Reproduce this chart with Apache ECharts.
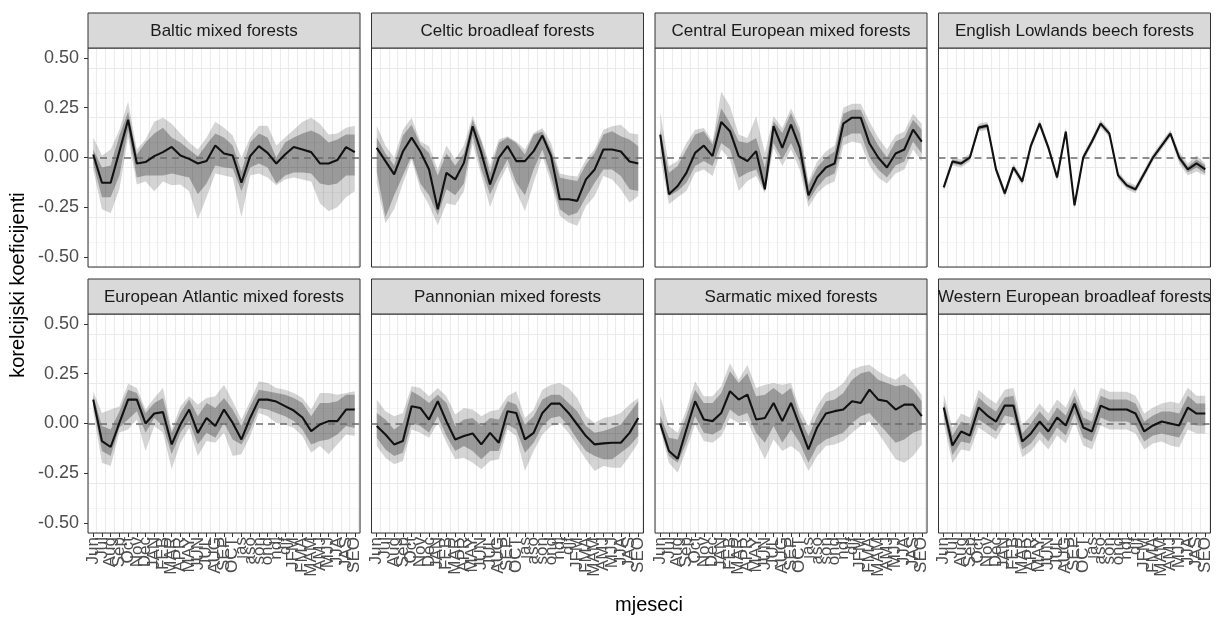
<!DOCTYPE html>
<html><head><meta charset="utf-8">
<script src="https://cdn.jsdelivr.net/npm/echarts@6/dist/echarts.min.js"></script>
<style>html,body{margin:0;padding:0;background:#fff}#c{width:1223px;height:617px}</style>
</head><body><div id="c"></div>
<script>
const months = ['Jun','Jul','Aug','Sep','Oct','Nov','Dec','JAN','FEB','MAR','APR','MAY','JUN','JUL','AUG','SEP','OCT','jas','aso','son','ond','ndj','djf','JFM','FMA','MAM','AMJ','MJJ','JJA','JAS','SEO'];
const panelNames = ['Baltic mixed forests','Celtic broadleaf forests','Central European mixed forests','English Lowlands beech forests','European Atlantic mixed forests','Pannonian mixed forests','Sarmatic mixed forests','Western European broadleaf forests'];
const yTickValues = [-0.5,-0.25,0,0.25,0.5];

// Baltic
const balticLine = [0.015,-0.127,-0.127,0.03,0.19,-0.03,-0.023,0.007,0.027,0.053,0.01,-0.007,-0.03,-0.018,0.06,0.02,0.01,-0.127,0.007,0.057,0.023,-0.03,0.015,0.053,0.04,0.027,-0.03,-0.03,-0.013,0.052,0.027];
const balticInHi = [0.04,-0.05,-0.04,0.11,0.23,0.015,0.075,0.12,0.15,0.1,0.075,0.04,0.005,0.065,0.12,0.1,0.06,-0.07,0.075,0.12,0.1,0.0,0.075,0.1,0.12,0.135,0.115,0.075,0.09,0.115,0.115];
const balticInLo = [-0.03,-0.2,-0.2,-0.09,0.14,-0.1,-0.09,-0.09,-0.09,-0.08,-0.09,-0.1,-0.185,-0.13,-0.04,-0.05,-0.055,-0.17,-0.05,-0.03,-0.05,-0.13,-0.09,-0.075,-0.075,-0.08,-0.13,-0.14,-0.13,-0.09,-0.09];
const balticOutHi = [0.1,0.01,0.04,0.14,0.28,0.04,0.09,0.18,0.2,0.17,0.12,0.075,0.04,0.1,0.18,0.15,0.11,0.0,0.1,0.16,0.16,0.06,0.1,0.14,0.18,0.2,0.17,0.115,0.12,0.15,0.16];
const balticOutLo = [-0.06,-0.26,-0.28,-0.16,0.1,-0.135,-0.12,-0.17,-0.12,-0.14,-0.135,-0.17,-0.31,-0.2,-0.08,-0.09,-0.1,-0.3,-0.09,-0.08,-0.1,-0.14,-0.11,-0.1,-0.11,-0.12,-0.23,-0.27,-0.25,-0.2,-0.17];

// Celtic
const celticLine = [0.048,-0.018,-0.085,0.03,0.1,0.03,-0.06,-0.26,-0.077,-0.11,-0.027,0.157,0.023,-0.135,-0.002,0.057,-0.018,-0.018,0.032,0.11,0.007,-0.21,-0.21,-0.218,-0.11,-0.06,0.04,0.04,0.03,-0.02,-0.03];
const celticInHi = [0.1,0.02,-0.04,0.11,0.165,0.065,0.023,-0.09,0.02,-0.04,0.02,0.19,0.08,-0.077,0.073,0.1,0.073,0.015,0.115,0.13,0.04,-0.1,-0.11,-0.118,-0.035,0.023,0.115,0.132,0.107,0.09,0.057];
const celticInLo = [-0.07,-0.3,-0.19,-0.09,0.007,-0.13,-0.19,-0.29,-0.16,-0.19,-0.13,0.11,-0.06,-0.185,-0.093,-0.01,-0.127,-0.19,-0.06,0.04,-0.093,-0.26,-0.293,-0.277,-0.2,-0.127,-0.06,-0.06,-0.093,-0.16,-0.168];
const celticOutHi = [0.16,0.06,0.0,0.14,0.2,0.08,0.057,-0.06,0.06,-0.01,0.06,0.21,0.09,-0.04,0.09,0.107,0.08,0.04,0.123,0.148,0.073,-0.08,-0.09,-0.095,-0.01,0.04,0.14,0.157,0.165,0.123,0.115];
const celticOutLo = [-0.13,-0.33,-0.26,-0.13,-0.01,-0.16,-0.24,-0.34,-0.23,-0.24,-0.17,0.07,-0.09,-0.25,-0.127,-0.043,-0.17,-0.27,-0.127,0.007,-0.127,-0.293,-0.327,-0.343,-0.243,-0.193,-0.093,-0.11,-0.16,-0.227,-0.193];

// Central European
const centralLine = [0.115,-0.185,-0.143,-0.077,0.023,0.06,0.007,0.178,0.132,0.007,-0.018,0.032,-0.16,0.157,0.048,0.165,0.05,-0.19,-0.1,-0.05,-0.03,0.17,0.2,0.2,0.07,0.0,-0.05,0.02,0.04,0.14,0.08];
const centralInHi = [0.14,-0.077,-0.043,0.04,0.115,0.132,0.065,0.248,0.173,0.082,0.073,0.098,-0.052,0.182,0.123,0.223,0.12,-0.14,-0.05,0.0,0.03,0.22,0.24,0.24,0.14,0.06,0.0,0.08,0.1,0.19,0.14];
const centralInLo = [0.07,-0.193,-0.168,-0.127,-0.043,-0.018,-0.043,0.073,0.04,-0.102,-0.077,-0.06,-0.17,0.073,-0.01,0.073,-0.02,-0.22,-0.15,-0.1,-0.08,0.1,0.12,0.12,0.0,-0.06,-0.1,-0.04,-0.02,0.08,0.02];
const centralOutHi = [0.23,-0.043,-0.018,0.073,0.14,0.148,0.082,0.33,0.257,0.115,0.098,0.207,0.023,0.207,0.148,0.248,0.15,-0.12,-0.02,0.03,0.06,0.25,0.27,0.27,0.18,0.1,0.04,0.11,0.13,0.22,0.17];
const centralOutLo = [0.0,-0.235,-0.2,-0.168,-0.077,-0.06,-0.093,0.04,-0.01,-0.168,-0.118,-0.093,-0.18,0.048,-0.043,0.04,-0.06,-0.25,-0.18,-0.14,-0.12,0.06,0.08,0.07,-0.04,-0.1,-0.13,-0.08,-0.06,0.04,-0.02];

// English Lowlands
const englishLine = [-0.15,-0.02,-0.03,0.0,0.15,0.16,-0.06,-0.18,-0.05,-0.12,0.06,0.17,0.05,-0.1,0.13,-0.24,0.0,0.08,0.17,0.12,-0.09,-0.14,-0.16,-0.08,0.0,0.06,0.12,0.0,-0.06,-0.03,-0.06];
const englishInHi = [-0.14,-0.01,-0.02,0.01,0.16,0.17,-0.05,-0.17,-0.04,-0.11,0.07,0.18,0.06,-0.09,0.14,-0.23,0.01,0.09,0.18,0.13,-0.08,-0.13,-0.15,-0.07,0.01,0.07,0.13,0.015,-0.045,-0.01,-0.04];
const englishInLo = [-0.16,-0.03,-0.04,-0.01,0.14,0.15,-0.07,-0.19,-0.06,-0.13,0.05,0.16,0.04,-0.11,0.12,-0.25,-0.01,0.07,0.16,0.11,-0.1,-0.15,-0.17,-0.09,-0.01,0.05,0.11,-0.015,-0.075,-0.05,-0.08];
const englishOutHi = [-0.13,0.0,-0.01,0.02,0.17,0.18,-0.04,-0.16,-0.03,-0.1,0.08,0.19,0.07,-0.08,0.15,-0.22,0.02,0.1,0.19,0.14,-0.07,-0.12,-0.14,-0.06,0.02,0.08,0.14,0.03,-0.03,0.01,-0.03];
const englishOutLo = [-0.17,-0.04,-0.05,-0.02,0.13,0.14,-0.08,-0.2,-0.07,-0.14,0.04,0.15,0.03,-0.12,0.11,-0.26,-0.02,0.06,0.15,0.1,-0.11,-0.16,-0.18,-0.1,-0.02,0.04,0.1,-0.03,-0.09,-0.07,-0.09];

// European Atlantic
const atlanticLine = [0.12,-0.088,-0.118,0.003,0.12,0.12,0.0,0.05,0.057,-0.105,-0.005,0.07,-0.047,0.028,-0.013,0.07,0.003,-0.08,0.028,0.12,0.12,0.11,0.087,0.065,0.03,-0.038,-0.005,0.012,0.012,0.07,0.07];
const atlanticInHi = [0.14,-0.013,-0.03,0.06,0.17,0.153,0.053,0.103,0.128,-0.047,0.053,0.12,0.037,0.103,0.078,0.128,0.07,-0.013,0.087,0.17,0.162,0.153,0.145,0.128,0.103,0.037,0.103,0.103,0.112,0.145,0.145];
const atlanticInLo = [0.09,-0.138,-0.163,-0.02,0.02,0.062,-0.047,0.028,-0.013,-0.155,-0.047,0.012,-0.105,-0.047,-0.072,0.003,-0.08,-0.105,-0.03,0.078,0.07,0.053,0.037,0.012,-0.03,-0.105,-0.088,-0.08,-0.055,-0.013,-0.022];
const atlanticOutHi = [0.162,0.053,0.07,0.085,0.2,0.178,0.07,0.128,0.178,-0.03,0.087,0.137,0.095,0.128,0.137,0.195,0.112,0.02,0.112,0.212,0.203,0.178,0.17,0.153,0.128,0.07,0.153,0.153,0.145,0.153,0.162];
const atlanticOutLo = [0.06,-0.197,-0.213,-0.045,-0.03,0.02,-0.138,-0.013,-0.047,-0.23,-0.097,-0.022,-0.163,-0.088,-0.097,-0.047,-0.163,-0.155,-0.063,0.053,0.037,0.003,-0.005,-0.022,-0.063,-0.147,-0.113,-0.155,-0.105,-0.055,-0.063];

// Pannonian
const pannonianLine = [-0.013,-0.055,-0.105,-0.088,0.087,0.078,0.02,0.112,0.01,-0.08,-0.063,-0.05,-0.105,-0.047,-0.097,0.062,0.053,-0.08,-0.047,0.053,0.1,0.1,0.053,-0.005,-0.063,-0.105,-0.1,-0.097,-0.097,-0.047,0.028];
const pannonianInHi = [0.053,0.02,-0.03,0.003,0.162,0.137,0.103,0.145,0.103,-0.013,0.02,0.028,-0.013,0.028,0.02,0.112,0.095,-0.005,0.037,0.12,0.145,0.145,0.103,0.062,-0.013,-0.047,-0.038,-0.022,-0.005,0.053,0.112];
const pannonianInLo = [-0.072,-0.13,-0.163,-0.147,0.003,-0.013,-0.047,0.037,-0.063,-0.138,-0.113,-0.138,-0.18,-0.138,-0.138,-0.005,-0.03,-0.147,-0.097,-0.013,0.028,0.037,-0.013,-0.08,-0.138,-0.163,-0.18,-0.18,-0.147,-0.113,-0.063];
const pannonianOutHi = [0.12,0.062,0.037,0.053,0.187,0.178,0.137,0.178,0.137,0.045,0.078,0.07,0.037,0.062,0.07,0.137,0.162,0.028,0.07,0.17,0.195,0.203,0.178,0.128,0.037,0.003,0.028,0.037,0.053,0.095,0.128];
const pannonianOutLo = [-0.113,-0.172,-0.205,-0.188,-0.03,-0.047,-0.072,0.003,-0.097,-0.18,-0.172,-0.197,-0.23,-0.188,-0.18,-0.03,-0.063,-0.238,-0.138,-0.055,-0.013,0.003,-0.047,-0.113,-0.18,-0.238,-0.213,-0.222,-0.222,-0.163,-0.097];

// Sarmatic
const sarmaticLine = [0.0,-0.138,-0.177,-0.03,0.112,0.02,0.012,0.053,0.162,0.12,0.145,0.02,0.028,0.103,0.012,0.103,-0.013,-0.13,-0.02,0.05,0.062,0.07,0.112,0.103,0.17,0.12,0.112,0.07,0.095,0.095,0.037];
const sarmaticInHi = [0.04,-0.072,-0.08,0.037,0.17,0.103,0.103,0.153,0.262,0.203,0.253,0.137,0.145,0.178,0.145,0.178,0.037,-0.063,0.037,0.112,0.12,0.153,0.22,0.253,0.262,0.22,0.203,0.187,0.195,0.17,0.112];
const sarmaticInLo = [-0.02,-0.163,-0.197,-0.097,0.037,-0.047,-0.055,-0.03,0.07,0.037,0.053,-0.047,-0.097,-0.013,-0.097,-0.03,-0.097,-0.197,-0.113,-0.08,-0.063,-0.047,0.003,0.037,0.053,0.003,-0.047,-0.097,-0.08,-0.047,-0.03];
const sarmaticOutHi = [0.137,-0.013,-0.047,0.07,0.212,0.137,0.137,0.187,0.303,0.22,0.295,0.178,0.195,0.203,0.195,0.203,0.07,-0.013,0.087,0.153,0.17,0.203,0.27,0.287,0.295,0.262,0.237,0.22,0.253,0.203,0.145];
const sarmaticOutLo = [-0.03,-0.197,-0.247,-0.13,-0.005,-0.088,-0.097,-0.063,0.028,0.003,0.012,-0.088,-0.18,-0.08,-0.138,-0.113,-0.147,-0.238,-0.163,-0.113,-0.105,-0.088,-0.047,-0.013,0.012,-0.047,-0.113,-0.18,-0.197,-0.163,-0.105];

// Western European
const westernLine = [0.08,-0.11,-0.04,-0.06,0.08,0.04,0.01,0.09,0.09,-0.09,-0.05,0.01,-0.04,0.03,-0.01,0.1,-0.02,-0.04,0.09,0.07,0.07,0.07,0.05,-0.04,-0.01,0.01,0.0,-0.01,0.08,0.05,0.05];
const westernInHi = [0.11,-0.06,0.01,-0.01,0.13,0.09,0.06,0.13,0.14,-0.05,0.0,0.06,0.01,0.08,0.04,0.14,0.03,0.01,0.14,0.12,0.12,0.12,0.1,0.01,0.04,0.06,0.06,0.05,0.14,0.1,0.1];
const westernInLo = [0.04,-0.16,-0.09,-0.1,0.02,-0.01,-0.04,0.04,0.03,-0.13,-0.1,-0.04,-0.09,-0.02,-0.06,0.05,-0.07,-0.09,0.03,0.01,0.01,0.01,-0.01,-0.09,-0.06,-0.05,-0.06,-0.07,0.01,-0.01,-0.01];
const westernOutHi = [0.15,-0.02,0.05,0.03,0.17,0.13,0.1,0.17,0.18,-0.01,0.04,0.1,0.05,0.12,0.08,0.18,0.07,0.05,0.18,0.16,0.16,0.16,0.14,0.05,0.08,0.1,0.11,0.1,0.18,0.14,0.14];
const westernOutLo = [0.0,-0.2,-0.13,-0.14,-0.02,-0.05,-0.08,0.0,-0.01,-0.17,-0.14,-0.08,-0.13,-0.06,-0.1,0.01,-0.11,-0.13,-0.01,-0.03,-0.03,-0.03,-0.05,-0.13,-0.1,-0.09,-0.11,-0.12,-0.03,-0.05,-0.05];

const panels = [
  {name: panelNames[0], line: balticLine, inLo: balticInLo, inHi: balticInHi, outLo: balticOutLo, outHi: balticOutHi},
  {name: panelNames[1], line: celticLine, inLo: celticInLo, inHi: celticInHi, outLo: celticOutLo, outHi: celticOutHi},
  {name: panelNames[2], line: centralLine, inLo: centralInLo, inHi: centralInHi, outLo: centralOutLo, outHi: centralOutHi},
  {name: panelNames[3], line: englishLine, inLo: englishInLo, inHi: englishInHi, outLo: englishOutLo, outHi: englishOutHi},
  {name: panelNames[4], line: atlanticLine, inLo: atlanticInLo, inHi: atlanticInHi, outLo: atlanticOutLo, outHi: atlanticOutHi},
  {name: panelNames[5], line: pannonianLine, inLo: pannonianInLo, inHi: pannonianInHi, outLo: pannonianOutLo, outHi: pannonianOutHi},
  {name: panelNames[6], line: sarmaticLine, inLo: sarmaticInLo, inHi: sarmaticInHi, outLo: sarmaticOutLo, outHi: sarmaticOutHi},
  {name: panelNames[7], line: westernLine, inLo: westernInLo, inHi: westernInHi, outLo: westernOutLo, outHi: westernOutHi}
];

const FONT = '"Liberation Sans", Arial, Helvetica, sans-serif';
const colLeft = [88, 371.5, 655, 938.5];
const PW = 272, PH = 219;
const rowTop = [48, 314];
const stripTop = [13, 279];
const SH = 35;
const X_MIN = -0.6, X_MAX = 30.6;
const xIdx = months.map((_, i) => i);
const xLabelValues = [X_MIN].concat(xIdx, [X_MAX]);

const grids = [], xAxes = [], yAxes = [], series = [], graphics = [];

function ribbon(xi, yi, lo, hi, color) {
  return {
    type: 'custom', xAxisIndex: xi, yAxisIndex: yi, silent: true, clip: false, z: 2,
    data: lo.map((v, i) => [i, v, hi[i]]),
    encode: {x: 0, y: [1, 2]},
    renderItem: function (params, api) {
      if (params.dataIndexInside !== 0) return null;
      const pts = [];
      for (let i = 0; i < lo.length; i++) pts.push(api.coord([i, lo[i]]));
      for (let i = hi.length - 1; i >= 0; i--) pts.push(api.coord([i, hi[i]]));
      return {type: 'polygon', shape: {points: pts}, style: {fill: color}};
    }
  };
}

panels.forEach((p, k) => {
  const r = Math.floor(k / 4), c = k % 4;
  const left = colLeft[c], top = rowTop[r];
  // backdrop grid (gridlines)
  const gB = grids.length;
  grids.push({left: left, top: top, width: PW, height: PH, show: true, backgroundColor: '#fff', borderWidth: 0, z: 0});
  xAxes.push({gridIndex: gB, type: 'value', min: X_MIN, max: X_MAX, interval: 1, z: 0,
    axisLine: {show: false, onZero: false}, axisTick: {show: false}, axisLabel: {show: false},
    splitLine: {show: true, lineStyle: {color: '#EBEBEB', width: 1.1}}});
  yAxes.push({gridIndex: gB, type: 'value', min: -0.55, max: 0.55, interval: 0.125, z: 0,
    axisLine: {show: false, onZero: false}, axisTick: {show: false}, axisLabel: {show: false},
    splitLine: {show: true, lineStyle: {color: '#EFEFEF', width: 0.6}}});
  yAxes.push({gridIndex: gB, type: 'value', position: 'right', min: -0.55, max: 0.55, interval: 0.25, z: 0,
    axisLine: {show: false, onZero: false}, axisTick: {show: false}, axisLabel: {show: false},
    splitLine: {show: true, lineStyle: {color: '#EBEBEB', width: 1.1}}});
  // data grid
  const gD = grids.length;
  grids.push({left: left, top: top, width: PW, height: PH, show: true, backgroundColor: 'transparent', borderColor: '#333333', borderWidth: 1, z: 1});
  const xD = xAxes.length;
  xAxes.push({gridIndex: gD, type: 'value', position: 'bottom', min: X_MIN, max: X_MAX,
    axisLine: {show: false, onZero: false}, splitLine: {show: false},
    axisTick: {show: r === 1, customValues: xIdx, length: 4, lineStyle: {color: '#333333', width: 1}},
    axisLabel: {show: r === 1, customValues: xLabelValues, rotate: 90, margin: 4, color: '#4D4D4D', fontSize: 17, lineHeight: 7, fontFamily: FONT,
      hideOverlap: false,
      formatter: function (v) {
        if (Math.abs(v - Math.round(v)) > 1e-6) return '';
        return months[Math.round(v)] || '';
      }}});
  const yD = yAxes.length;
  yAxes.push({gridIndex: gD, type: 'value', position: 'left', min: -0.55, max: 0.55,
    axisLine: {show: false, onZero: false}, splitLine: {show: false},
    axisTick: {show: c === 0, customValues: yTickValues, length: 4, lineStyle: {color: '#333333', width: 1}},
    axisLabel: {show: c === 0, customValues: yTickValues, margin: 9, color: '#4D4D4D', fontSize: 18, fontFamily: FONT,
      showMinLabel: true, showMaxLabel: true,
      formatter: function (v) { return v.toFixed(2); }}});
  series.push(ribbon(xD, yD, p.outLo, p.outHi, 'rgba(0,0,0,0.17)'));
  series.push(ribbon(xD, yD, p.inLo, p.inHi, 'rgba(0,0,0,0.27)'));
  series.push({type: 'line', xAxisIndex: xD, yAxisIndex: yD, data: [], silent: true,
    markLine: {silent: true, symbol: ['none', 'none'], label: {show: false}, z: 5,
      lineStyle: {type: [7, 5], color: '#6B6B6B', width: 1.6}, data: [{yAxis: 0}]}});
  series.push({type: 'line', xAxisIndex: xD, yAxisIndex: yD, z: 6, silent: true, showSymbol: false, symbol: 'none',
    data: p.line.map((v, i) => [i, v]),
    lineStyle: {color: '#111111', width: 2.1}});
  // strip
  graphics.push({type: 'rect', z: 10, shape: {x: left, y: stripTop[r], width: PW, height: SH},
    style: {fill: '#D9D9D9', stroke: '#333333', lineWidth: 1}});
  graphics.push({type: 'text', z: 11, x: left + PW / 2, y: stripTop[r] + SH / 2 + 1,
    style: {text: p.name, fontSize: 17, fontFamily: FONT, fill: '#1A1A1A', align: 'center', verticalAlign: 'middle'}});
});

graphics.push({type: 'text', z: 11, x: 18, y: 285, rotation: Math.PI / 2,
  style: {text: 'korelcijski koeficijenti', fontSize: 20, fontFamily: FONT, fill: '#000', align: 'center', verticalAlign: 'middle'}});
graphics.push({type: 'text', z: 11, x: 649, y: 605,
  style: {text: 'mjeseci', fontSize: 20, fontFamily: FONT, fill: '#000', align: 'center', verticalAlign: 'middle'}});

const chart = echarts.init(document.getElementById('c'), null, {renderer: 'canvas'});
chart.setOption({
  animation: false,
  backgroundColor: '#ffffff',
  grid: grids,
  xAxis: xAxes,
  yAxis: yAxes,
  series: series,
  graphic: graphics
});
</script>
</body></html>
